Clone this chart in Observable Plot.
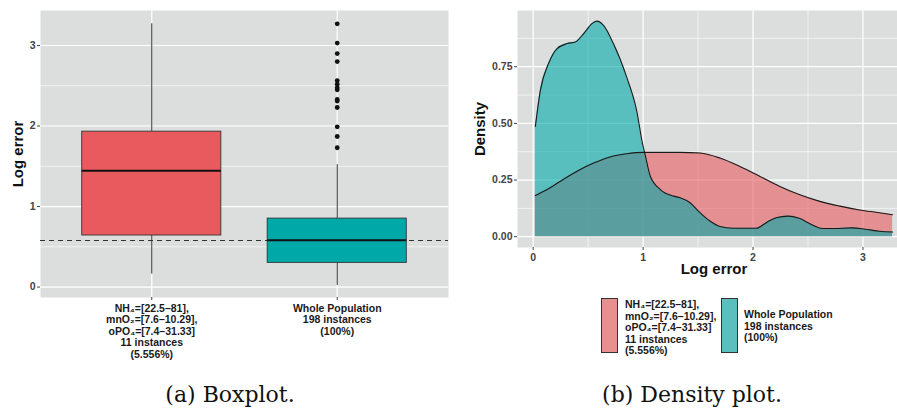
<!DOCTYPE html>
<html>
<head>
<meta charset="utf-8">
<script src="https://cdn.jsdelivr.net/npm/d3@7"></script>
<script src="https://cdn.jsdelivr.net/npm/@observablehq/plot@0.6"></script>
<style>
  html, body { margin: 0; padding: 0; background: #fff; width: 897px; height: 410px; overflow: hidden; }
  #root { position: relative; width: 897px; height: 410px; overflow: hidden; font-family: "Liberation Sans", Arial, sans-serif; }
  .panel { position: absolute; top: 0; }
  .caption { position: absolute; font-family: "DejaVu Serif", "Liberation Serif", serif; font-size: 22px; line-height: 26px; color: #111; white-space: nowrap; transform: translateX(-50%); }
  .legend-key { position: absolute; width: 17px; height: 55px; border: 1px solid #333; box-sizing: border-box; }
  .legend-text { position: absolute; font-size: 10.5px; font-weight: bold; line-height: 11.5px; color: #1a1a1a; white-space: pre; }
</style>
</head>
<body>
<div id="root"></div>
<script>
// ---------- data ----------
const groups = [
  "NH₄=[22.5–81],\nmnO₂=[7.6–10.29],\noPO₄=[7.4–31.33]\n11 instances\n(5.556%)",
  "Whole Population\n198 instances\n(100%)"
];
const legendLabels = groups;
const groupColors = ["#E95A5E", "#00A8A8"];
const boxQ1 = [0.64, 0.30];
const boxMedian = [1.445, 0.58];
const boxQ3 = [1.93, 0.85];
const whiskerLow = [0.16, 0.02];
const whiskerHigh = [3.27, 1.52];
const outliersWhole = [3.27, 3.03, 2.90, 2.80, 2.565, 2.52, 2.475, 2.45, 2.33, 2.31, 2.23, 1.99, 1.87, 1.73];
const referenceLine = 0.578;
const yTicksLeft = [0, 1, 2, 3];
const yMinorLeft = [0.5, 1.5, 2.5];

// density curves (Log error, Density)
const subgroupX = [0.02, 0.127, 0.248, 0.399, 0.55, 0.70, 0.85, 1.0, 1.21, 1.336, 1.517, 1.699, 1.88, 2.06, 2.24, 2.42, 2.60, 2.79, 2.97, 3.15, 3.27];
const subgroupY = [0.182, 0.208, 0.245, 0.289, 0.325, 0.352, 0.366, 0.372, 0.372, 0.372, 0.369, 0.347, 0.31, 0.267, 0.223, 0.186, 0.157, 0.135, 0.118, 0.106, 0.097];
const wholeX = [0.02, 0.066, 0.14, 0.218, 0.309, 0.384, 0.46, 0.535, 0.58, 0.64, 0.73, 0.85, 0.94, 1.0, 1.015, 1.066, 1.157, 1.278, 1.336, 1.427, 1.517, 1.608, 1.699, 1.82, 2.03, 2.12, 2.21, 2.32, 2.42, 2.54, 2.63, 2.75, 2.90, 3.02, 3.15, 3.27];
const wholeY = [0.486, 0.647, 0.764, 0.83, 0.852, 0.859, 0.896, 0.94, 0.951, 0.932, 0.852, 0.705, 0.56, 0.398, 0.369, 0.267, 0.208, 0.179, 0.172, 0.15, 0.106, 0.069, 0.045, 0.037, 0.037, 0.062, 0.084, 0.091, 0.081, 0.052, 0.036, 0.036, 0.039, 0.033, 0.024, 0.021];
const xTicksRight = [0, 1, 2, 3];
const xMinorRight = [0.5, 1.5, 2.5];
const yTicksRight = [0, 0.25, 0.5, 0.75];
const yMinorRight = [0.125, 0.375, 0.625, 0.875];

// ---------- styling ----------
const BG = "#dcdede";
const root = document.getElementById("root");
const tickColor = "#444";
const FONT = "Liberation Sans, Arial, sans-serif";

// ---------- (a) Boxplot ----------
const boxes = groups.map((g, i) => ({
  pos: i + 1, q1: boxQ1[i], med: boxMedian[i], q3: boxQ3[i],
  lo: whiskerLow[i], hi: whiskerHigh[i], color: groupColors[i]
}));
const halfW = 0.375;

const left = Plot.plot({
  width: 460, height: 370,
  marginLeft: 40, marginRight: 12, marginTop: 10, marginBottom: 73,
  style: { fontFamily: FONT, background: "transparent", overflow: "visible" },
  x: { type: "linear", domain: [0.4, 2.6] },
  y: { domain: [-0.13, 3.435] },
  marks: [
    Plot.frame({ fill: BG, stroke: null }),
    Plot.ruleY(yMinorLeft, { stroke: "white", strokeWidth: 0.6 }),
    Plot.ruleY(yTicksLeft, { stroke: "white", strokeWidth: 1.2 }),
    Plot.ruleX(boxes, { x: "pos", stroke: "white", strokeWidth: 1.2 }),
    Plot.ruleY([referenceLine], { stroke: "#333", strokeWidth: 1, strokeDasharray: "5,4" }),
    Plot.ruleX(boxes, { x: "pos", y1: "lo", y2: "q1", stroke: "#333", strokeWidth: 1 }),
    Plot.ruleX(boxes, { x: "pos", y1: "q3", y2: "hi", stroke: "#333", strokeWidth: 1 }),
    Plot.rect(boxes, { x1: d => d.pos - halfW, x2: d => d.pos + halfW, y1: "q1", y2: "q3", fill: "color", stroke: "#333", strokeWidth: 0.9 }),
    Plot.ruleY(boxes, { y: "med", x1: d => d.pos - halfW, x2: d => d.pos + halfW, stroke: "#111", strokeWidth: 2 }),
    Plot.dot(outliersWhole, { x: () => 2, y: d => d, r: 2.4, fill: "#111", stroke: null }),
    Plot.axisY({ ticks: yTicksLeft, tickFormat: d3.format("d"), tickSize: 3, tickPadding: 2, fontSize: 10.5, fontWeight: "bold", color: tickColor, label: null }),
    Plot.axisX({ ticks: [1, 2], tickFormat: i => groups[i - 1], tickSize: 3, tickPadding: 3, fontSize: 10.5, fontWeight: "bold", lineHeight: 1.1, color: tickColor, fill: "#1a1a1a", label: null }),
    Plot.text(["Log error"], { frameAnchor: "left", textAnchor: "middle", rotate: -90, dx: -22, fontSize: 15, fontWeight: "bold", fill: "#111" })
  ]
});
left.classList.add("panel");
left.style.left = "0px";
root.appendChild(left);

// ---------- (b) Density ----------
const subgroupCurve = subgroupX.map((x, i) => ({ x, y: subgroupY[i] }));
const wholeCurve = wholeX.map((x, i) => ({ x, y: wholeY[i] }));

const right = Plot.plot({
  width: 450, height: 290,
  marginLeft: 57, marginRight: 0, marginTop: 10, marginBottom: 43,
  style: { fontFamily: FONT, background: "transparent", overflow: "visible" },
  x: { domain: [-0.1425, 3.4325] },
  y: { domain: [-0.0476, 0.998] },
  marks: [
    Plot.frame({ fill: BG, stroke: null }),
    Plot.ruleY(yMinorRight, { stroke: "white", strokeWidth: 0.6 }),
    Plot.ruleX(xMinorRight, { stroke: "white", strokeWidth: 0.6 }),
    Plot.ruleY(yTicksRight, { stroke: "white", strokeWidth: 1.2 }),
    Plot.ruleX(xTicksRight, { stroke: "white", strokeWidth: 1.2 }),
    Plot.areaY(subgroupCurve, { x: "x", y: "y", fill: groupColors[0], fillOpacity: 0.6, curve: "monotone-x" }),
    Plot.areaY(wholeCurve, { x: "x", y: "y", fill: groupColors[1], fillOpacity: 0.6, curve: "monotone-x" }),
    Plot.line(subgroupCurve, { x: "x", y: "y", stroke: "#1a1a1a", strokeWidth: 1.1, curve: "monotone-x" }),
    Plot.line(wholeCurve, { x: "x", y: "y", stroke: "#1a1a1a", strokeWidth: 1.1, curve: "monotone-x" }),
    Plot.axisY({ ticks: yTicksRight, tickFormat: d3.format(".2f"), tickSize: 3, tickPadding: 2, fontSize: 10.5, fontWeight: "bold", color: tickColor, label: null }),
    Plot.axisX({ ticks: xTicksRight, tickFormat: d3.format("d"), tickSize: 3, tickPadding: 3, fontSize: 10.5, fontWeight: "bold", color: tickColor, label: null }),
    Plot.text(["Density"], { frameAnchor: "left", textAnchor: "middle", rotate: -90, dx: -37, fontSize: 15, fontWeight: "bold", fill: "#111" }),
    Plot.text(["Log error"], { frameAnchor: "bottom", textAnchor: "middle", dy: 26, fontSize: 15, fontWeight: "bold", fill: "#111" })
  ]
});
right.classList.add("panel");
right.style.left = "460px";
root.appendChild(right);

// ---------- legend (below density plot) ----------
const legendFills = ["#E89090", "#5BBFC0"];
const legendKeyX = [601, 721];
const legendTextX = [625, 744];
const legendTextY = [299, 309];
legendLabels.forEach((lab, i) => {
  const key = document.createElement("div");
  key.className = "legend-key";
  key.style.left = legendKeyX[i] + "px";
  key.style.top = "298px";
  key.style.background = legendFills[i];
  root.appendChild(key);
  const t = document.createElement("div");
  t.className = "legend-text";
  t.style.left = legendTextX[i] + "px";
  t.style.top = legendTextY[i] + "px";
  t.textContent = lab;
  root.appendChild(t);
});

// ---------- captions ----------
[["(a) Boxplot.", 230], ["(b) Density plot.", 692]].forEach(([txt, cx]) => {
  const c = document.createElement("div");
  c.className = "caption";
  c.style.left = cx + "px";
  c.style.top = "382px";
  c.textContent = txt;
  root.appendChild(c);
});
</script>
</body>
</html>
